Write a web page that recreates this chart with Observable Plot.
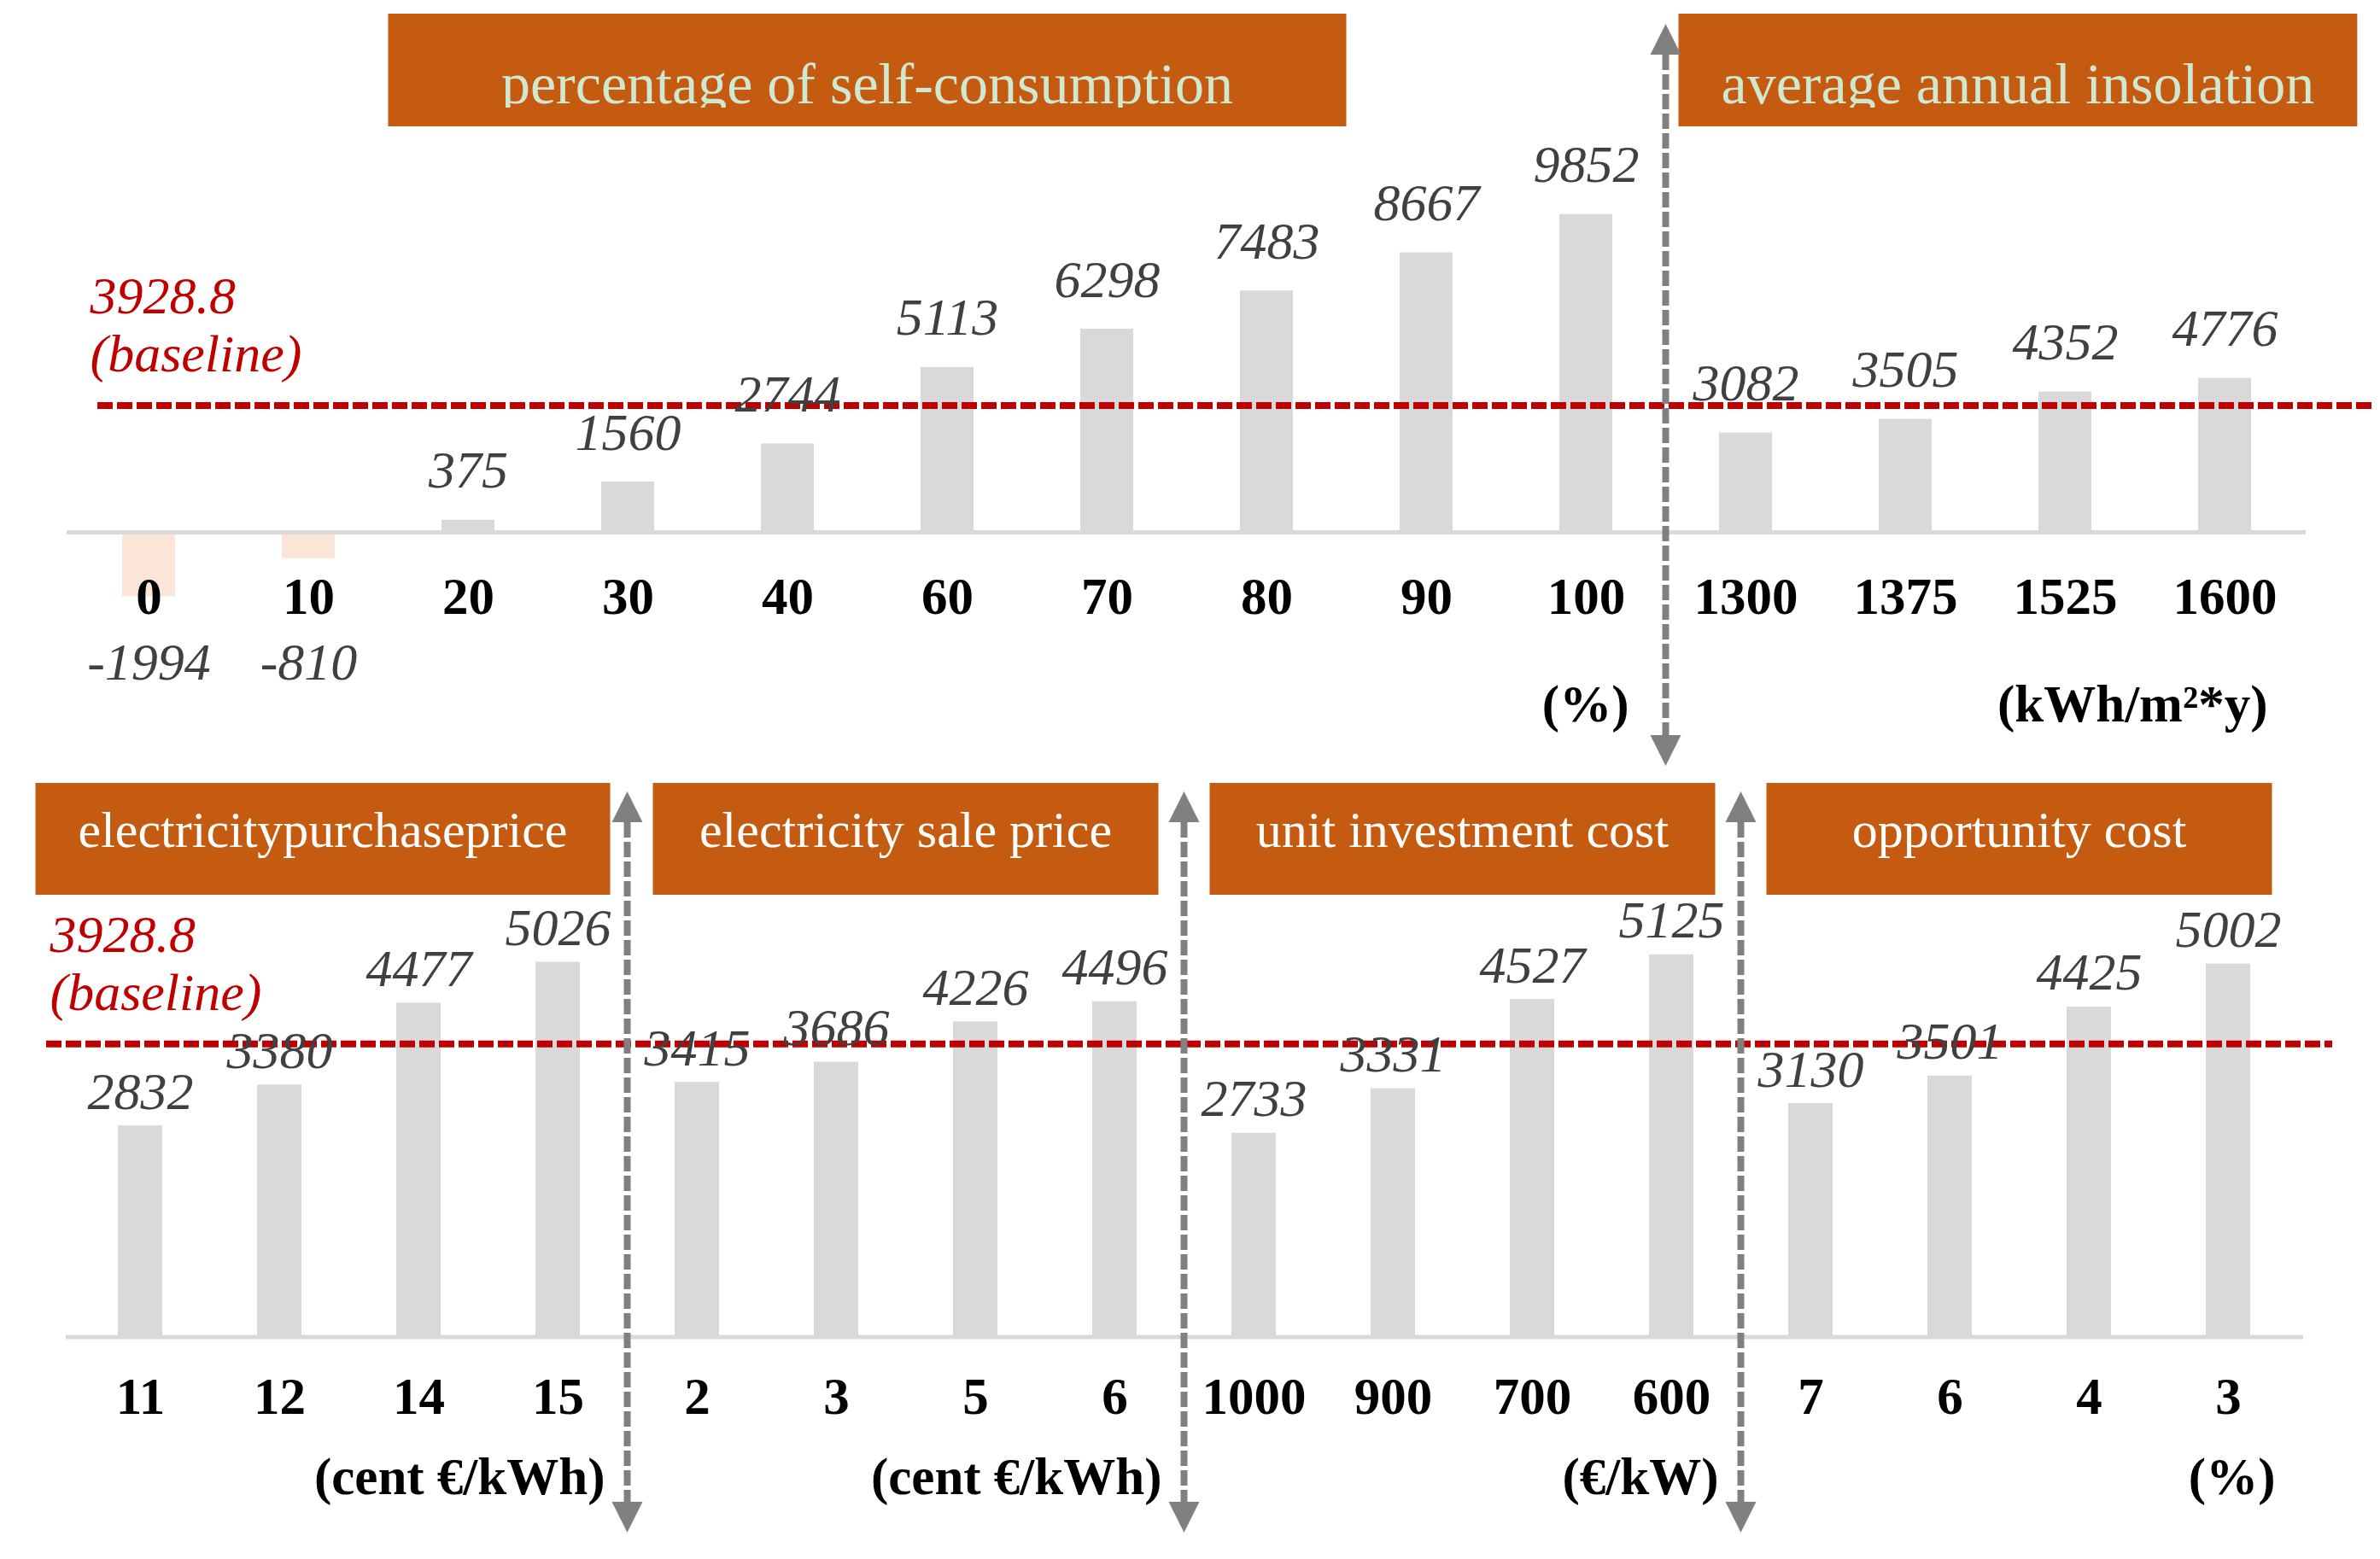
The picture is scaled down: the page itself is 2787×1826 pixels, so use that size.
<!DOCTYPE html>
<html>
<head>
<meta charset="utf-8">
<script src="https://cdn.jsdelivr.net/npm/d3@7"></script>
<script src="https://cdn.jsdelivr.net/npm/@observablehq/plot@0.6"></script>
<style>
  html, body { margin: 0; padding: 0; background: #ffffff; overflow: hidden; }
  #chart { width: 2787px; height: 1826px; }
  #chart svg { display: block; }
</style>
</head>
<body>
<div id="chart"></div>
<script>
// ---------------- data ----------------
const baselineValue = 3928.8;

const selfConsumptionPct = ["0", "10", "20", "30", "40", "60", "70", "80", "90", "100"];
const selfConsumptionNPV = [-1994, -810, 375, 1560, 2744, 5113, 6298, 7483, 8667, 9852];

const insolationKWh = ["1300", "1375", "1525", "1600"];
const insolationNPV = [3082, 3505, 4352, 4776];

const purchasePriceCent = ["11", "12", "14", "15"];
const purchasePriceNPV = [2832, 3380, 4477, 5026];

const salePriceCent = ["2", "3", "5", "6"];
const salePriceNPV = [3415, 3686, 4226, 4496];

const investmentCostEur = ["1000", "900", "700", "600"];
const investmentCostNPV = [2733, 3331, 4527, 5125];

const opportunityCostPct = ["7", "6", "4", "3"];
const opportunityCostNPV = [3130, 3501, 4425, 5002];

const groupTitles = [
  "percentage of self-consumption",
  "average annual insolation",
  "electricitypurchaseprice",
  "electricity sale price",
  "unit investment cost",
  "opportunity cost"
];
const groupUnits = ["(%)", "(kWh/m²*y)", "(cent €/kWh)", "(cent €/kWh)", "(€/kW)", "(%)"];

// ---------------- build ----------------
const groupLabels = [selfConsumptionPct, insolationKWh, purchasePriceCent, salePriceCent, investmentCostEur, opportunityCostPct];
const groupValues = [selfConsumptionNPV, insolationNPV, purchasePriceNPV, salePriceNPV, investmentCostNPV, opportunityCostNPV];
const groups = groupTitles.map((title, i) => ({
  title, unit: groupUnits[i], labels: groupLabels[i], values: groupValues[i]
}));

const FONT = "'Liberation Serif', 'Times New Roman', Times, serif";
const BAR = "#d9d9d9";
const NEG = "#fbe5d6";
const RED = "#c00000";
const LABEL = "#404040";
const ORANGE = "#c55a11";
const ARROW = "#808080";
const PAGE_W = 2787;

const panels = [
  {
    groups: [groups[0], groups[1]],
    layout: {
      height: 913, marginTop: 94, marginBottom: 101, marginLeft: 78, marginRight: 87,
      yDomain: [-5000, 14000], padding: 0.67,
      valueDy: -38, negDy: 172, tickDy: 95, unitDy: 221, unitDx: 50,
      ruleInsetLeft: 36, ruleInsetRight: -79, baseDx: 27,
      boxTop: 16, boxBottom: 148, boxBaseline: 121, boxFont: 68, boxText: "#d0e8d0", clipAt: 126,
      arrowTop: 28, arrowBottom: 897
    }
  },
  {
    groups: [groups[2], groups[3], groups[4], groups[5]],
    layout: {
      height: 913, marginTop: 41, marginBottom: 42, marginLeft: 77, marginRight: 90,
      yDomain: [-2500, 7000], padding: 0.68,
      valueDy: -20, negDy: 165, tickDy: 90, unitDy: 184, unitDx: 55,
      ruleInsetLeft: -23, ruleInsetRight: -34, baseDx: -19,
      boxTop: 4, boxBottom: 135, boxBaseline: 79, boxFont: 60, boxText: "#ffffff", clipAt: null,
      arrowTop: 14, arrowBottom: 882
    }
  }
];

const container = document.getElementById("chart");

panels.forEach((panel, pi) => {
  const L = panel.layout;
  const rows = panel.groups.flatMap((g, gi) =>
    g.labels.map((label, i) => ({ key: `${gi}|${label}`, label, value: g.values[i], group: gi }))
  );
  const firstKey = gi => rows.find(d => d.group === gi).key;
  const lastKey = gi => rows.filter(d => d.group === gi).slice(-1)[0].key;
  const unitRows = panel.groups.map((g, gi) => ({ key: lastKey(gi), unit: g.unit }));

  const plot = Plot.plot({
    width: PAGE_W,
    height: L.height,
    marginTop: L.marginTop,
    marginBottom: L.marginBottom,
    marginLeft: L.marginLeft,
    marginRight: L.marginRight,
    style: { fontFamily: FONT, background: "#ffffff", overflow: "visible" },
    x: { type: "band", domain: rows.map(d => d.key), paddingInner: L.padding, paddingOuter: L.padding / 2, axis: null },
    y: { domain: L.yDomain, axis: null },
    marks: [
      Plot.barY(rows.filter(d => d.value >= 0), { x: "key", y: "value", fill: BAR }),
      Plot.barY(rows.filter(d => d.value < 0), { x: "key", y: "value", fill: NEG }),
      Plot.ruleY([0], { stroke: BAR, strokeWidth: 5 }),
      Plot.ruleY([baselineValue], {
        stroke: RED, strokeWidth: 8, strokeDasharray: "18,5",
        insetLeft: L.ruleInsetLeft, insetRight: L.ruleInsetRight
      }),
      Plot.text([baselineValue], {
        y: d => d, frameAnchor: "left", dx: L.baseDx, dy: -40,
        text: d => `${d}\n(baseline)`, textAnchor: "start", lineAnchor: "bottom",
        lineHeight: 1.1, fill: RED, fontStyle: "italic", fontSize: 62
      }),
      Plot.text(rows.filter(d => d.value >= 0), {
        x: "key", y: "value", text: d => String(d.value), dy: L.valueDy, lineAnchor: "bottom",
        fill: LABEL, fontStyle: "italic", fontSize: 62
      }),
      Plot.text(rows.filter(d => d.value < 0), {
        x: "key", y: () => 0, text: d => String(d.value), dy: L.negDy, lineAnchor: "bottom",
        fill: LABEL, fontStyle: "italic", fontSize: 62
      }),
      Plot.text(rows, {
        x: "key", y: () => 0, text: "label", dy: L.tickDy, lineAnchor: "bottom",
        fill: "#000000", fontWeight: "bold", fontSize: 61
      }),
      Plot.text(unitRows, {
        x: "key", y: () => 0, text: "unit", dx: L.unitDx, dy: L.unitDy, lineAnchor: "bottom",
        textAnchor: "end", fill: "#000000", fontWeight: "bold", fontSize: 61
      })
    ]
  });
  container.appendChild(plot);

  // ---------- annotations derived from the x scale ----------
  const xs = plot.scale("x");
  const bw = xs.bandwidth, step = xs.step;
  const cx = k => xs.apply(k) + bw / 2;
  const nG = panel.groups.length;
  const sep = gi => (cx(lastKey(gi)) + cx(firstKey(gi + 1))) / 2;
  const svg = d3.select(plot);
  const ann = svg.append("g");

  let clipRef = null;
  if (L.clipAt != null) {
    const id = `clip-box-text-${pi}`;
    svg.append("defs").append("clipPath").attr("id", id)
      .append("rect").attr("x", 0).attr("y", 0).attr("width", PAGE_W).attr("height", L.clipAt);
    clipRef = `url(#${id})`;
  }

  panel.groups.forEach((g, gi) => {
    const left = cx(firstKey(gi)) - step / 2;
    const right = cx(lastKey(gi)) + step / 2;
    const loBound = gi === 0 ? 20 : sep(gi - 1) + 15;
    const hiBound = gi === nG - 1 ? PAGE_W - 20 : sep(gi) - 20;
    const boxG = ann.append("g");
    const rect = boxG.append("rect").attr("fill", ORANGE);
    const txt = boxG.append("text")
      .attr("y", L.boxBaseline)
      .attr("text-anchor", "middle")
      .attr("font-family", FONT).attr("font-size", L.boxFont)
      .attr("fill", L.boxText)
      .text(g.title);
    if (clipRef) txt.attr("clip-path", clipRef);
    const tw = txt.node().getComputedTextLength();
    let w = Math.max(Math.min(right - left - 60, 6 * step), tw + 100);
    w = Math.min(w, hiBound - loBound);
    let x1 = (left + right) / 2 - w / 2;
    if (x1 + w > hiBound) x1 = hiBound - w;
    if (x1 < loBound) x1 = loBound;
    rect.attr("x", x1).attr("y", L.boxTop)
      .attr("width", w).attr("height", L.boxBottom - L.boxTop);
    txt.attr("x", x1 + w / 2);
  });

  // dashed double-headed separators between groups
  for (let gi = 0; gi < nG - 1; gi++) {
    const sx = sep(gi);
    const head = 36, half = 18;
    ann.append("line")
      .attr("x1", sx).attr("x2", sx)
      .attr("y1", L.arrowTop + head).attr("y2", L.arrowBottom - head)
      .attr("stroke", ARROW).attr("stroke-width", 8).attr("stroke-dasharray", "18,5");
    ann.append("path")
      .attr("d", `M${sx},${L.arrowTop}L${sx - half},${L.arrowTop + head}L${sx + half},${L.arrowTop + head}Z`)
      .attr("fill", ARROW);
    ann.append("path")
      .attr("d", `M${sx},${L.arrowBottom}L${sx - half},${L.arrowBottom - head}L${sx + half},${L.arrowBottom - head}Z`)
      .attr("fill", ARROW);
  }
});
</script>
</body>
</html>
